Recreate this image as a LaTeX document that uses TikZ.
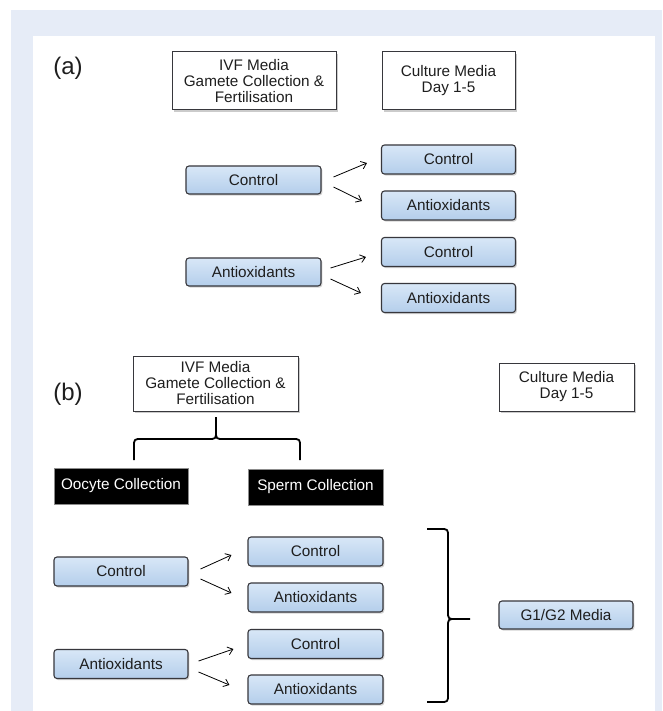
\documentclass[tikz,border=0pt]{standalone}
\usepackage{fontspec}
\setmainfont{Liberation Sans}
\usetikzlibrary{arrows.meta,shadows}
\definecolor{bgblue}{RGB}{230,236,247}
\definecolor{boxtop}{RGB}{216,231,247}
\definecolor{boxbot}{RGB}{180,206,235}
\definecolor{edge}{RGB}{55,55,60}
\definecolor{txt}{RGB}{30,30,30}
\begin{document}
\begin{tikzpicture}[x=1pt,y=-1pt,
  boxfont/.style={font=\fontsize{15.3}{16}\selectfont},
  whitebox/.style={boxfont, draw=edge, line width=1pt, fill=white, align=center, inner sep=0pt, text=txt,
    drop shadow={shadow xshift=1.6pt,shadow yshift=-1.6pt,fill=black!40}},
  bluebox/.style={boxfont, draw=edge, line width=1.1pt, rounded corners=3pt, top color=boxtop, bottom color=boxbot,
    minimum width=134pt, minimum height=29pt, inner sep=0pt, text=txt,
    drop shadow={shadow xshift=1.4pt,shadow yshift=-1.6pt,fill=black!35}},
  blackbox/.style={boxfont, draw=black!45, line width=0.8pt, fill=black, text=white,
    minimum width=134pt, minimum height=36pt, inner sep=0pt},
  plabel/.style={font=\fontsize{24}{26}\selectfont, text=txt, inner sep=0pt},
  arr/.style={-{Straight Barb[length=5pt,width=8pt]}, line width=0.8pt, black},
  bracestyle/.style={line width=1.8pt, line join=round, black}
]
\useasboundingbox (0,0) rectangle (662,711);
\fill[white] (0,0) rectangle (662,711);
\fill[bgblue] (11,10) rectangle (662,711);
\fill[white] (33,36) rectangle (655,711);

% ---------- panel (a)
\node[plabel] (labA) at (68,68) {(a)};
\node[whitebox, minimum width=164pt, minimum height=58pt] (ivfA) at (254,81) {IVF Media\\Gamete Collection \&\\Fertilisation};
\node[whitebox, minimum width=133pt, minimum height=58pt] (cultA) at (448.5,81) {Culture Media\\Day 1-5};

\node[bluebox, minimum width=135pt, minimum height=28pt] (ctlA) at (253.5,180) {Control};
\node[bluebox] (ctlA1) at (448.5,159.5) {Control};
\node[bluebox] (antA1) at (448.5,205.5) {Antioxidants};
\node[bluebox, minimum width=135pt, minimum height=28pt] (antA) at (253.5,272) {Antioxidants};
\node[bluebox] (ctlA2) at (448.5,252) {Control};
\node[bluebox] (antA2) at (448.5,298) {Antioxidants};

\draw[arr] ([shift={(12,-3)}]ctlA.east) -- ([shift={(-14,3.5)}]ctlA1.west);
\draw[arr] ([shift={(12,7)}]ctlA.east) -- ([shift={(-19,-4.5)}]antA1.west);
\draw[arr] ([shift={(9,-4)}]antA.east) -- ([shift={(-15,5)}]ctlA2.west);
\draw[arr] ([shift={(9,7)}]antA.east) -- ([shift={(-20,-5)}]antA2.west);

% ---------- panel (b)
\node[plabel] (labB) at (68,394) {(b)};
\node[whitebox, minimum width=165pt, minimum height=55pt] (ivfB) at (215.5,383.5) {IVF Media\\Gamete Collection \&\\Fertilisation};
\node[whitebox, minimum width=135pt, minimum height=48pt] (cultB) at (566.5,387) {Culture Media\\Day 1-5};

\draw[bracestyle] (134,460) -- (134,447) .. controls (134,439) .. (142,439) -- (208,439)
  .. controls (216,439) .. (216,431) -- (216,417);
\draw[bracestyle] (216,431) .. controls (216,439) .. (224,439) -- (292,439)
  .. controls (300,439) .. (300,447) -- (300,460);

\node[blackbox] (oocyte) at (121,486) {Oocyte Collection};
\node[blackbox, minimum width=135pt] (sperm) at (315.5,487) {Sperm Collection};

\node[bluebox] (ctlB) at (121,571.5) {Control};
\node[bluebox, minimum width=135pt] (ctlB1) at (315.5,551.5) {Control};
\node[bluebox, minimum width=135pt] (antB1) at (315.5,597.5) {Antioxidants};
\node[bluebox] (antB) at (121,664) {Antioxidants};
\node[bluebox, minimum width=135pt] (ctlB2) at (315.5,644) {Control};
\node[bluebox, minimum width=135pt] (antB2) at (315.5,689.5) {Antioxidants};

\draw[arr] ([shift={(12,-2.5)}]ctlB.east) -- ([shift={(-16,3.5)}]ctlB1.west);
\draw[arr] ([shift={(12,7.5)}]ctlB.east) -- ([shift={(-16,-4.5)}]antB1.west);
\draw[arr] ([shift={(10,-3)}]antB.east) -- ([shift={(-14,5)}]ctlB2.west);
\draw[arr] ([shift={(10,8)}]antB.east) -- ([shift={(-18,-4.5)}]antB2.west);

\draw[bracestyle] (427,529) -- (440,529) .. controls (448,529) .. (448,537) -- (448,611)
  .. controls (448,619) .. (456,619) -- (470,619);
\draw[bracestyle] (456,619) .. controls (448,619) .. (448,627) -- (448,694)
  .. controls (448,702) .. (440,702) -- (427,702);

\node[bluebox, minimum width=134pt, minimum height=28pt] (g1g2) at (566,615) {G1/G2 Media};
\end{tikzpicture}
\end{document}
